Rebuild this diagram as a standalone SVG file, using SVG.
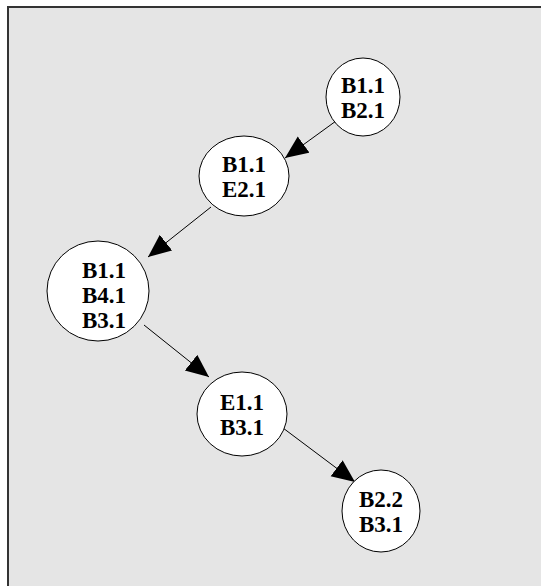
<svg xmlns="http://www.w3.org/2000/svg" width="541" height="586" viewBox="0 0 541 586">
<style>
.bg{fill:#e5e5e5;stroke:#333;stroke-width:2}
.node ellipse{fill:#fff;stroke:#000;stroke-width:1}
.node text{font-family:"Liberation Serif","Times New Roman",serif;font-weight:bold;font-size:23px;text-anchor:middle;fill:#000}
.edge{fill:none;stroke:#000;stroke-width:1;marker-end:url(#arr)}
</style>
<defs>
<marker id="arr" markerUnits="userSpaceOnUse" markerWidth="26" markerHeight="22" refX="23" refY="10" orient="auto">
<path d="M0,0 L23,10 L0,20 Z" fill="#000"/>
</marker>
</defs>
<rect class="bg" x="8" y="7" width="545" height="590"/>
<g id="connectors">
<path class="edge" d="M336,121 L285,158"/>
<path class="edge" d="M211,207 L148,257"/>
<path class="edge" d="M144,325 L209,377"/>
<path class="edge" d="M283,428 L355,482"/>
</g>
<g id="n1" class="node">
<ellipse cx="363" cy="97" rx="37" ry="39"/>
<text x="363" y="93">B1.1</text>
<text x="363" y="118">B2.1</text>
</g>
<g id="n2" class="node">
<ellipse cx="244" cy="176" rx="45" ry="40"/>
<text x="244" y="172">B1.1</text>
<text x="244" y="197">E2.1</text>
</g>
<g id="n3" class="node">
<ellipse cx="98" cy="291" rx="51" ry="50"/>
<text x="104" y="278">B1.1</text>
<text x="104" y="303">B4.1</text>
<text x="104" y="328">B3.1</text>
</g>
<g id="n4" class="node">
<ellipse cx="242" cy="414" rx="45" ry="42"/>
<text x="242" y="410">E1.1</text>
<text x="242" y="435">B3.1</text>
</g>
<g id="n5" class="node">
<ellipse cx="381" cy="511" rx="39" ry="41"/>
<text x="381" y="507">B2.2</text>
<text x="381" y="532">B3.1</text>
</g>
</svg>
